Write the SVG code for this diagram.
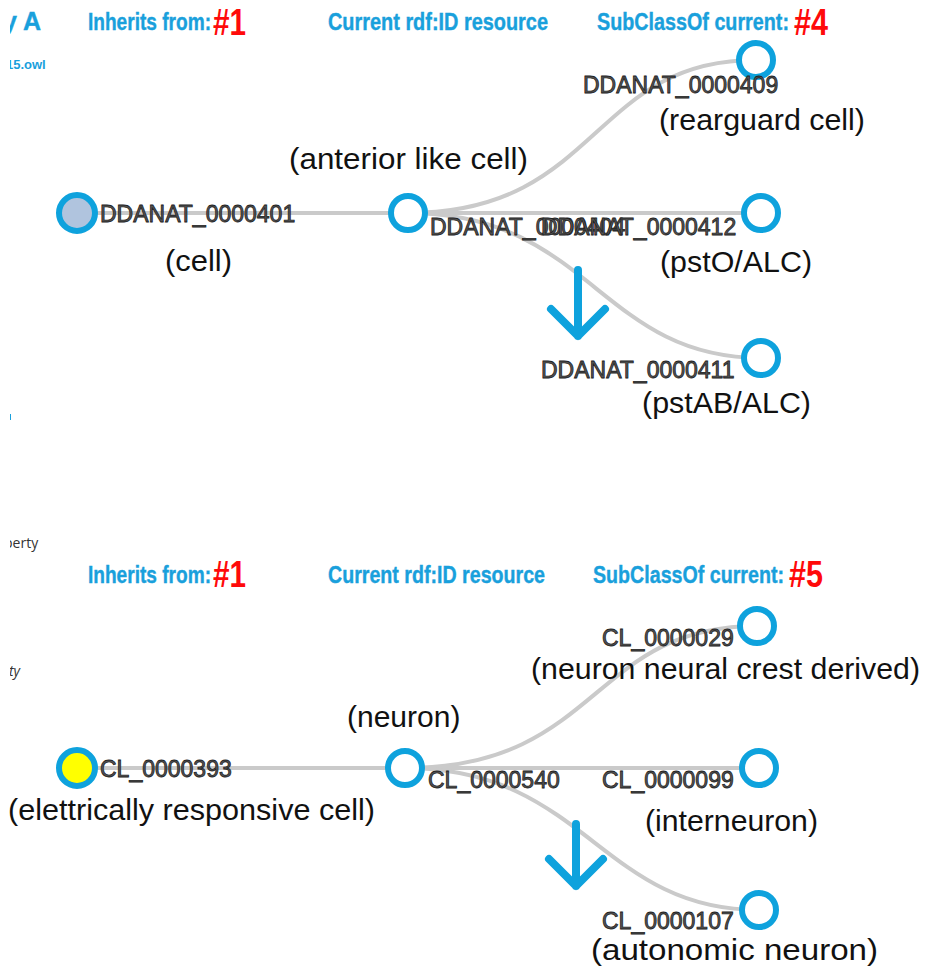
<svg xmlns="http://www.w3.org/2000/svg" width="925" height="966" viewBox="0 0 925 966">
<defs>
<style>
.hd{font-family:"Liberation Sans",Arial,sans-serif;font-weight:bold;font-size:24px;fill:#19a0dc;stroke:#19a0dc;stroke-width:0.4}
.num{font-family:"Liberation Sans",Arial,sans-serif;font-weight:bold;font-size:36px;fill:#ff0a0a}
.id{font-family:"Liberation Sans",Arial,sans-serif;font-size:23px;fill:#555;stroke:#222;stroke-width:0.8}
.nm{font-family:"Liberation Sans",Arial,sans-serif;font-size:30px;fill:#111}
.nd{fill:#fff;stroke:#0ea2dd;stroke-width:6}
.ed{fill:none;stroke:#cacaca;stroke-width:4}
.ar{fill:none;stroke:#0ea2dd;stroke-width:8;stroke-linecap:round;stroke-linejoin:round}
.frag{font-family:"Open Sans","Liberation Sans",sans-serif;font-size:14px;fill:#333}
</style>
<clipPath id="lc"><rect x="10" y="0" width="40" height="966"/></clipPath>
</defs>
<rect width="925" height="966" fill="#fff"/>

<g id="fragments" clip-path="url(#lc)">
<text x="3" y="30" class="hd" style="font-size:25px">y A</text>
<text x="6" y="69" class="hd" style="font-size:13px;stroke-width:0">15.owl</text>
<rect x="9.5" y="414" width="1.5" height="6" fill="#19a0dc"/>
<text x="4" y="548" class="frag">perty</text>
<text x="9" y="676" class="frag" font-style="italic">ty</text>
</g>

<g id="header-top">
<text x="88" y="30" class="hd" textLength="123" lengthAdjust="spacingAndGlyphs">Inherits from:</text>
<text x="213" y="35" class="num" textLength="33" lengthAdjust="spacingAndGlyphs">#1</text>
<text x="328" y="30" class="hd" textLength="220" lengthAdjust="spacingAndGlyphs">Current rdf:ID resource</text>
<text x="597" y="30" class="hd" textLength="192" lengthAdjust="spacingAndGlyphs">SubClassOf current:</text>
<text x="794" y="35" class="num" textLength="34" lengthAdjust="spacingAndGlyphs">#4</text>
</g>

<g id="header-bottom">
<text x="88" y="583" class="hd" textLength="123" lengthAdjust="spacingAndGlyphs">Inherits from:</text>
<text x="213" y="587" class="num" textLength="33" lengthAdjust="spacingAndGlyphs">#1</text>
<text x="328" y="583" class="hd" textLength="217" lengthAdjust="spacingAndGlyphs">Current rdf:ID resource</text>
<text x="593" y="583" class="hd" textLength="191" lengthAdjust="spacingAndGlyphs">SubClassOf current:</text>
<text x="789" y="587" class="num" textLength="34" lengthAdjust="spacingAndGlyphs">#5</text>
</g>

<g id="connectors">
<path class="ed" d="M78,213 L408,213"/>
<path class="ed" d="M408,213 C600,213 590,60 756,60"/>
<path class="ed" d="M408,213 L761,213"/>
<path class="ed" d="M408,213 C590,213 600,358 761,358"/>
<path class="ed" d="M77,768 L405,768"/>
<path class="ed" d="M405,768 C600,768 590,626 757,626"/>
<path class="ed" d="M405,768 L759,768"/>
<path class="ed" d="M405,768 C585,768 600,910 759,910"/>
</g>

<g id="arrows">
<path class="ar" d="M578,270 L578,336 M551,309 L578,336 L605,309"/>
<path class="ar" d="M576,824 L576,886 M549,859 L576,886 L603,859"/>
</g>

<g id="node-DDANAT_0000401">
<circle class="nd" cx="77" cy="213" r="18" style="fill:#b0c4de"/>
<text x="100" y="222" class="id">DDANAT_0000401</text>
<text x="165" y="271" class="nm" textLength="67" lengthAdjust="spacingAndGlyphs">(cell)</text>
</g>
<g id="node-DDANAT_0000404">
<circle class="nd" cx="408" cy="213" r="17"/>
<text x="430" y="235" class="id">DDANAT_0000404</text>
<text x="289" y="169" class="nm" textLength="239" lengthAdjust="spacingAndGlyphs">(anterior like cell)</text>
</g>
<g id="node-DDANAT_0000409">
<circle class="nd" cx="756" cy="60" r="17"/>
<text x="583" y="93" class="id">DDANAT_0000409</text>
<text x="659" y="130" class="nm" textLength="206" lengthAdjust="spacingAndGlyphs">(rearguard cell)</text>
</g>
<g id="node-DDANAT_0000412">
<circle class="nd" cx="761" cy="213" r="17"/>
<text x="541" y="235" class="id">DDANAT_0000412</text>
<text x="660" y="272" class="nm" textLength="152" lengthAdjust="spacingAndGlyphs">(pstO/ALC)</text>
</g>
<g id="node-DDANAT_0000411">
<circle class="nd" cx="761" cy="358" r="17"/>
<text x="541" y="378" class="id">DDANAT_0000411</text>
<text x="642" y="413" class="nm" textLength="169" lengthAdjust="spacingAndGlyphs">(pstAB/ALC)</text>
</g>

<g id="node-CL_0000393">
<circle class="nd" cx="77" cy="768" r="18" style="fill:#ffff00"/>
<text x="100" y="777" class="id">CL_0000393</text>
<text x="8" y="820" class="nm" textLength="367" lengthAdjust="spacingAndGlyphs">(elettrically responsive cell)</text>
</g>
<g id="node-CL_0000540">
<circle class="nd" cx="405" cy="768" r="17"/>
<text x="428" y="788" class="id">CL_0000540</text>
<text x="347" y="727" class="nm">(neuron)</text>
</g>
<g id="node-CL_0000029">
<circle class="nd" cx="757" cy="626" r="17"/>
<text x="602" y="646" class="id">CL_0000029</text>
<text x="531" y="679" class="nm" textLength="389" lengthAdjust="spacingAndGlyphs">(neuron neural crest derived)</text>
</g>
<g id="node-CL_0000099">
<circle class="nd" cx="759" cy="768" r="17"/>
<text x="602" y="788" class="id">CL_0000099</text>
<text x="645" y="831" class="nm" textLength="173" lengthAdjust="spacingAndGlyphs">(interneuron)</text>
</g>
<g id="node-CL_0000107">
<circle class="nd" cx="759" cy="910" r="17"/>
<text x="602" y="929" class="id">CL_0000107</text>
<text x="591" y="960" class="nm" textLength="287" lengthAdjust="spacingAndGlyphs">(autonomic neuron)</text>
</g>
</svg>
